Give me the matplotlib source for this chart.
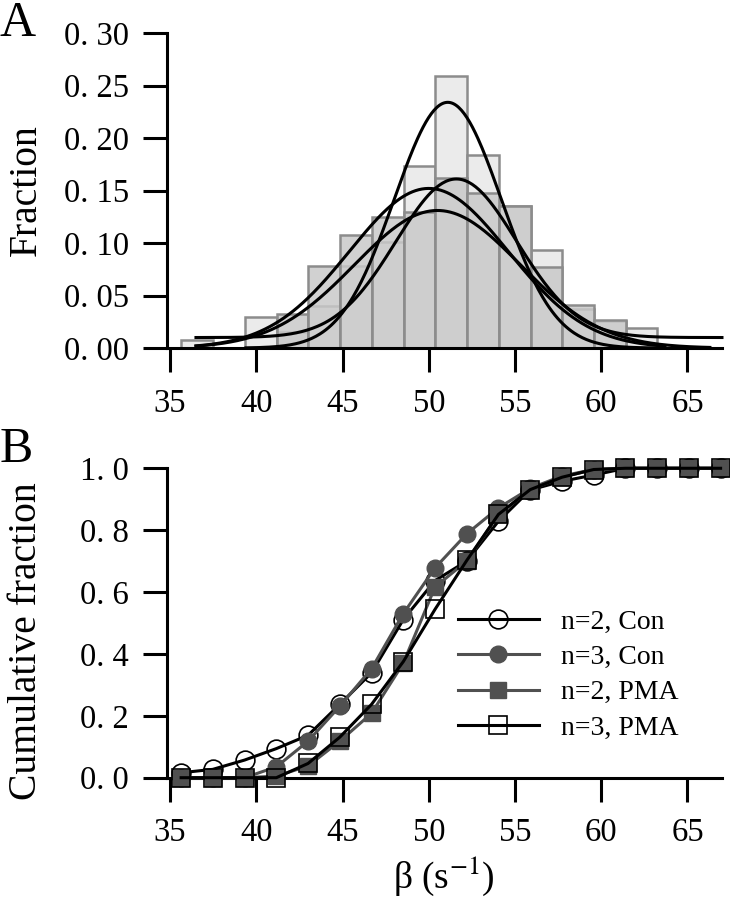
#histograma de beta y fraccion acumulada

import numpy as np
import matplotlib.pyplot as plt

#datos del histograma (fraccion por intervalo)
bordes = [35.66, 37.50, 39.34, 41.18, 43.02, 44.86, 46.70, 48.54, 50.38,
          52.22, 54.06, 55.90, 57.74, 59.58, 61.42]
ancho = 1.84
frac_clara = [0.008, 0.0, 0.030, 0.015, 0.040, 0.078, 0.101, 0.173, 0.259,
              0.184, 0.135, 0.093, 0.037, 0.026, 0.019]
frac_oscura = [0.0, 0.0, 0.0, 0.032, 0.078, 0.1075, 0.125, 0.130, 0.162,
               0.148, 0.1355, 0.077, 0.041, 0.027, 0.0]

#ajustes gaussianos: amplitud, centro, sigma, base, inicio, fin
g_amp = [0.234, 0.151, 0.152, 0.131]
g_xc = [51.1, 51.6, 50.0, 50.5]
g_sig = [3.1, 3.5, 4.6, 4.8]
g_base = [0.0, 0.01, 0.0, 0.0]
g_ini = [39.4, 36.5, 36.5, 36.5]
g_fin = [63.2, 67.0, 63.7, 66.3]

#fraccion acumulada
beta = [35.64, 37.48, 39.32, 41.16, 43.00, 44.84, 46.68, 48.52, 50.36,
        52.20, 54.04, 55.88, 57.72, 59.56, 61.40, 63.24, 65.08, 66.92]
n2_con = [0.016, 0.027, 0.057, 0.094, 0.137, 0.237, 0.339, 0.511, 0.637,
          0.700, 0.829, 0.930, 0.958, 0.978, 1.0, 1.0, 1.0, 1.0]
n3_con = [0.0, 0.0, 0.0, 0.035, 0.118, 0.231, 0.352, 0.530, 0.678,
          0.788, 0.872, 0.935, 0.975, 0.996, 1.0, 1.0, 1.0, 1.0]
n2_pma = [0.0, 0.0, 0.0, 0.005, 0.038, 0.118, 0.208, 0.370, 0.616,
          0.700, 0.851, 0.931, 0.971, 0.996, 1.0, 1.0, 1.0, 1.0]
n3_pma = [0.0, 0.0, 0.0, 0.0, 0.046, 0.131, 0.237, 0.375, 0.544,
          0.702, 0.851, 0.931, 0.971, 0.996, 1.0, 1.0, 1.0, 1.0]
etiquetas = ['n=2, Con', 'n=3, Con', 'n=2, PMA', 'n=3, PMA']

ticks_x = [35, 40, 45, 50, 55, 60, 65]
ticks_a = [0.0, 0.05, 0.10, 0.15, 0.20, 0.25, 0.30]
ticks_b = [0.0, 0.2, 0.4, 0.6, 0.8, 1.0]


def gaussiana(x, a, xc, s, y0):
    return y0 + a * np.exp(-0.5 * ((x - xc) / s) ** 2)


def estilo_ejes(ax):
    for lado in ['top', 'right']:
        ax.spines[lado].set_visible(False)
    for lado in ['left', 'bottom']:
        ax.spines[lado].set_linewidth(2.2)
    ax.tick_params(direction='out', length=17, width=2.2, labelsize=23.5)
    ax.tick_params(axis='x', pad=12)
    ax.tick_params(axis='y', pad=10)
    ax.set_xlim(34.8, 67.0)
    ax.set_xticks(ticks_x)


plt.rcParams['font.family'] = ['Liberation Serif', 'DejaVu Serif']
plt.rcParams['mathtext.fontset'] = 'stix'

fig = plt.figure(figsize=(7.3, 9), dpi=100)

#panel A
ax1 = fig.add_axes([0.2283, 0.6133, 0.7607, 0.3500])
x_bar = [b for b, h in zip(bordes, frac_clara) if h > 0]
h_bar = [h for h in frac_clara if h > 0]
ax1.bar(x_bar, h_bar, width=ancho, align='edge', facecolor='#ebebeb',
        edgecolor='#8c8c8c', linewidth=1.8, zorder=1)
x_bar = [b for b, h in zip(bordes, frac_oscura) if h > 0]
h_bar = [h for h in frac_oscura if h > 0]
ax1.bar(x_bar, h_bar, width=ancho, align='edge',
        facecolor=(0.79, 0.79, 0.79, 0.85), edgecolor='#8c8c8c',
        linewidth=1.8, zorder=2)
for i in range(len(g_amp)):
    xx = np.linspace(g_ini[i], g_fin[i], 300)
    ax1.plot(xx, gaussiana(xx, g_amp[i], g_xc[i], g_sig[i], g_base[i]),
             color='black', lw=2.2, zorder=3, clip_on=False)
estilo_ejes(ax1)
ax1.set_ylim(0, 0.30)
ax1.set_yticks(ticks_a)
ax1.set_yticklabels(['0. %02d' % round(t * 100) for t in ticks_a])
ax1.set_ylabel('Fraction', fontsize=28.5)
ax1.yaxis.set_label_coords(-0.219, 0.5)

#panel B
ax2 = fig.add_axes([0.2283, 0.1359, 0.7607, 0.3438])
gris = '#505050'
ax2.plot(beta, n2_con, '-', color='black', lw=2.2, zorder=2,
         marker='o', ms=13.5, mfc='none', mec='black', mew=1.2, label=etiquetas[0], clip_on=False)
ax2.plot(beta, n3_con, '-', color=gris, lw=2.2, zorder=3,
         marker='o', ms=12, mfc=gris, mec=gris, label=etiquetas[1], clip_on=False)
ax2.plot(beta, n2_pma, '-', color=gris, lw=2.2, zorder=3,
         marker='s', ms=12, mfc=gris, mec=gris, label=etiquetas[2], clip_on=False)
ax2.plot(beta, n3_pma, '-', color='black', lw=2.2, zorder=4,
         marker='s', ms=12.5, mfc='none', mec='black', mew=1.2, label=etiquetas[3], clip_on=False)
estilo_ejes(ax2)
ax2.set_ylim(0, 1.0)
ax2.set_yticks(ticks_b)
ax2.set_yticklabels(['%d. %d' % (int(t), round(t * 10) % 10) for t in ticks_b])
ax2.set_ylabel('Cumulative fraction', fontsize=28.5)
ax2.yaxis.set_label_coords(-0.219, 0.44)
ax2.set_xlabel('β (s$^{-1}$)', fontsize=27)
ax2.legend(loc='upper left', bbox_to_anchor=(0.5246, 0.545), frameon=False,
           fontsize=20, handlelength=2.9, handletextpad=0.8,
           labelspacing=0.36, borderpad=0, borderaxespad=0)

fig.text(0.0, 0.999, 'A', fontsize=36, va='top', ha='left')
fig.text(0.0, 0.526, 'B', fontsize=36, va='top', ha='left')

fig.savefig('out.png', dpi=100)
